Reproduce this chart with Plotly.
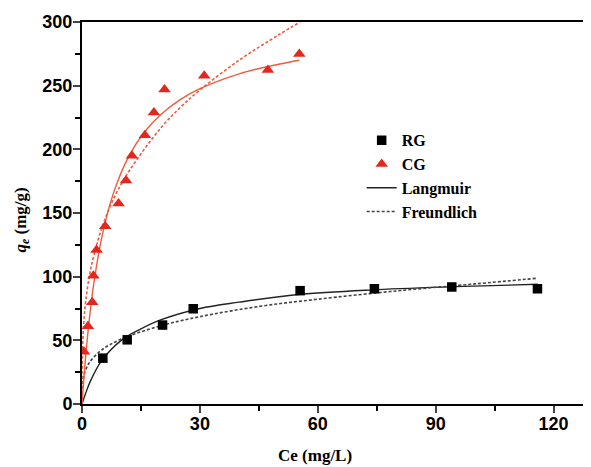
import plotly.graph_objects as go

# Experimental data
rg_ce = [5.3, 11.5, 20.5, 28.3, 55.5, 74.4, 94.1, 115.9]
rg_qe = [36, 50.4, 62, 74.8, 89, 90.5, 91.9, 90.5]

cg_ce = [0.5, 1.5, 2.6, 2.9, 3.7, 5.9, 9.3, 11.2, 12.7, 16.0, 18.3, 21.0, 31.1, 47.3, 55.3]
cg_qe = [41, 61, 80, 100.8, 121, 139.6, 157.5, 175.6, 195, 211, 229, 247, 257.7, 262.4, 274.8]

# Fitted curves
rg_lang_ce = [0, 1, 2, 5, 10, 15, 20, 30, 40, 55, 75, 95, 116]
rg_lang_qe = [0, 9, 17, 34, 50, 59, 66, 75, 80, 86, 89.8, 92.2, 94]

rg_freu_ce = [0, 0.1, 0.5, 1, 2, 5, 10, 20, 30, 45, 60, 80, 100, 116]
rg_freu_qe = [0, 14.6, 22.6, 27.3, 33, 42.4, 51, 61.4, 68.6, 76.6, 82.3, 88.8, 94.3, 98.8]

cg_lang_ce = [0, 0.5, 1, 2, 3, 5, 8, 12, 16, 20, 25, 30, 40, 50, 55.3]
cg_lang_qe = [0, 21.3, 39.8, 70.3, 94.5, 130.3, 165.6, 195, 214, 227.2, 239, 247.6, 259.3, 266.8, 270]

cg_freu_ce = [0, 0.05, 0.2, 0.5, 1, 2, 3, 5, 8, 12, 20, 25, 30, 40, 50, 55.5]
cg_freu_qe = [0, 31.4, 49, 65.9, 82.3, 102.7, 116.4, 137.8, 161, 183, 216.6, 232.8, 246.6, 270, 289.8, 300]

x_title = 'Ce (mg/L)'
y_title = '<i>q</i><sub><i>e</i></sub> (mg/g)'

red_m = '#e5261c'
red_l = '#ec5c40'
dark = '#222222'

fig = go.Figure()

fig.add_trace(go.Scatter(x=rg_lang_ce, y=rg_lang_qe, mode='lines', line=dict(color=dark, width=1.4, shape='spline'), showlegend=False))
fig.add_trace(go.Scatter(x=rg_freu_ce, y=rg_freu_qe, mode='lines', line=dict(color='#444444', width=1.6, dash='3px,2px', shape='spline'), showlegend=False))
fig.add_trace(go.Scatter(x=cg_lang_ce, y=cg_lang_qe, mode='lines', line=dict(color=red_l, width=1.4, shape='spline'), showlegend=False))
fig.add_trace(go.Scatter(x=cg_freu_ce, y=cg_freu_qe, mode='lines', line=dict(color=red_l, width=1.6, dash='3px,2px', shape='spline'), showlegend=False))

fig.add_trace(go.Scatter(x=rg_ce, y=rg_qe, mode='markers', name='RG',
                         marker=dict(symbol='square', size=9.5, color='black')))
fig.add_trace(go.Scatter(x=cg_ce, y=cg_qe, mode='markers', name='CG',
                         marker=dict(symbol='triangle-up', size=11, color=red_m)))
fig.add_trace(go.Scatter(x=[None], y=[None], mode='lines', name='Langmuir',
                         line=dict(color=dark, width=1.4)))
fig.add_trace(go.Scatter(x=[None], y=[None], mode='lines', name='Freundlich',
                         line=dict(color='#444444', width=1.6, dash='3px,2px')))

tickfont = dict(family='Liberation Sans', size=18, color='black', weight='bold')
titlefont = dict(family='Liberation Serif', size=17, color='black', weight='bold')

# The page body has an 8px margin, so the figure is sized to fit inside the window.
fig.update_layout(
    width=583, height=459,
    margin=dict(l=74, r=6, t=14, b=63),
    plot_bgcolor='white', paper_bgcolor='white',
    legend=dict(x=0.556, y=0.735, xanchor='left', yanchor='top',
                font=dict(family='Liberation Serif', size=16, color='black', weight='bold'),
                bgcolor='rgba(0,0,0,0)', tracegroupgap=0, itemwidth=30),
    xaxis=dict(range=[0, 128], tick0=0, dtick=30, ticks='outside', ticklen=7, tickwidth=1.5,
               showline=True, linewidth=2, linecolor='black', mirror=True, showgrid=False, zeroline=False,
               tickfont=tickfont, automargin=False, ticklabelstandoff=-5,
               minor=dict(dtick=15, ticks='outside', ticklen=5, tickwidth=1.5, tickcolor='black')),
    yaxis=dict(range=[0, 300], tick0=0, dtick=50, ticks='outside', ticklen=7, tickwidth=1.5,
               showline=True, linewidth=2, linecolor='black', mirror=True, showgrid=False, zeroline=False,
               tickfont=tickfont, automargin=False, ticklabelstandoff=-3,
               minor=dict(dtick=25, ticks='outside', ticklen=5, tickwidth=1.5, tickcolor='black')),
    annotations=[
        dict(text=x_title, xref='paper', yref='paper', x=0.463, y=-0.134,
             xanchor='center', yanchor='middle', showarrow=False, font=titlefont),
        dict(text=y_title, xref='paper', yref='paper', x=-0.12, y=0.482, textangle=-90,
             xanchor='center', yanchor='middle', showarrow=False, font=titlefont),
    ],
)

fig.write_html('out.html')
